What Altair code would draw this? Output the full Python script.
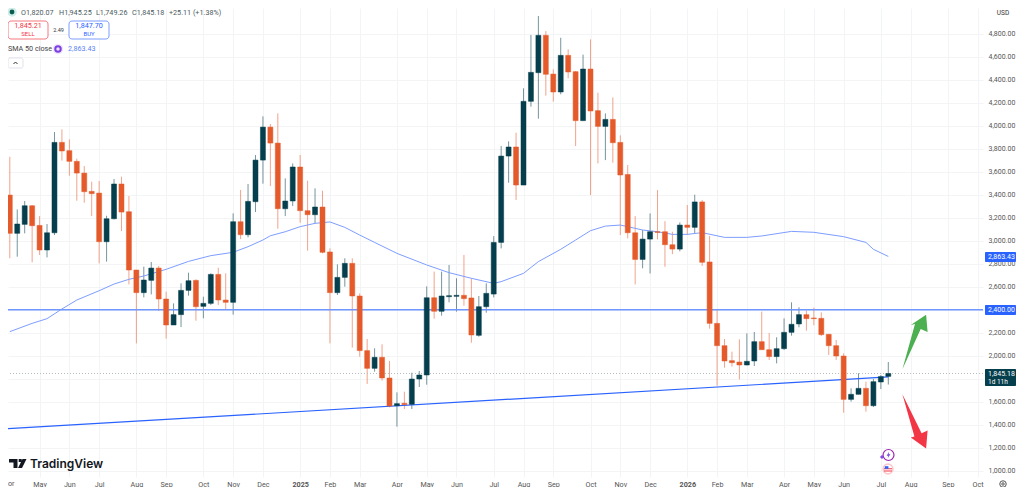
import altair as alt
import pandas as pd

idx = list(range(1, 120))
opens = [3397,3064,3142,3304,3133,2919,3069,3855,3783,3690,3588,3429,3414,2991,3191,3493,3252,2745,2548,2655,2762,2493,2267,2357,2568,2655,2429,2455,2707,2484,2464,3165,3052,3339,3701,3988,3849,3278,3345,3641,3261,3226,3293,2902,2548,2681,2803,2519,2044,1890,1986,1806,1565,1586,1577,1797,1832,2504,2386,2513,2516,2525,2502,2177,2426,2536,2985,3736,3815,3484,4212,4461,4786,4449,4293,4612,4470,4044,4493,4131,3994,4055,3855,3576,3069,2837,3014,3078,3078,2965,2927,3136,3116,3337,2815,2281,2087,1957,1945,1919,1954,2122,2052,1992,2061,2203,2276,2357,2328,2325,2186,2087,1997,1620,1664,1716,1565,1771,1820]
highs = [3730,3272,3345,3310,3214,3145,3945,3968,3881,3713,3649,3513,3519,3217,3536,3557,3388,2745,2774,2815,2780,2557,2455,2629,2722,2664,2513,2716,2765,2716,3238,3441,3493,3745,4081,4015,4107,3542,3672,3745,3522,3455,3435,2934,2794,2847,2847,2542,2145,2064,2099,1954,1681,1687,1852,1867,2603,2731,2731,2789,2673,2876,2673,2519,2629,3040,3823,3864,3939,4325,4789,4954,4823,4490,4765,4664,4476,4618,4751,4287,4107,4246,3916,3658,3214,3092,3237,3440,3170,3078,3159,3310,3400,3354,3041,2397,2145,2035,2142,2194,2206,2383,2197,2160,2325,2464,2421,2392,2418,2377,2189,2136,2020,1716,1847,1774,1797,1832,1945]
lows = [2847,2861,3064,2812,2876,2855,3049,3696,3565,3348,3330,3214,2803,2818,3185,3084,2620,2107,2507,2533,2388,2148,2267,2249,2522,2304,2325,2441,2441,2406,2357,3014,3029,3249,3496,3475,3104,3214,3301,3156,2913,3151,2890,2107,2528,2600,2070,1991,1754,1861,1783,1551,1383,1536,1536,1728,1748,2322,2348,2464,2383,2435,2113,2165,2374,2507,2933,3504,3354,3484,4165,4061,4261,4209,4273,4412,3823,4044,3397,3672,3701,3678,3049,3020,2620,2760,2715,3011,2773,2883,2907,3050,3064,2780,2235,1739,1896,1905,1794,1916,1910,2052,1963,1933,2050,2174,2247,2218,2264,2171,2006,1963,1504,1600,1664,1513,1554,1710,1749]
closes = [3064,3145,3304,3130,2919,3069,3855,3780,3690,3588,3426,3409,2991,3191,3493,3249,2745,2548,2658,2762,2493,2267,2357,2568,2652,2426,2455,2707,2484,2464,3165,3052,3342,3701,3988,3849,3278,3345,3641,3261,3226,3293,2899,2548,2681,2803,2519,2044,1890,1986,1806,1562,1583,1574,1797,1832,2504,2386,2519,2522,2525,2496,2180,2426,2542,2985,3736,3815,3484,4212,4464,4786,4447,4293,4612,4467,4044,4493,4128,3994,4055,3852,3571,3069,2837,3014,3078,3072,2965,2927,3136,3116,3337,2812,2281,2087,1954,1939,1919,1951,2122,2052,1992,2061,2203,2273,2357,2322,2322,2183,2087,1997,1620,1664,1716,1565,1774,1818,1845]

sma_x = [1,4,6,8,10,13,15,17,19,22,25,28,31,33,35,36,38,40,42,44,46,48,50,53,57,60,63,66,67,70,72,75,77,79,81,83,84,86,88,90,92,94,97,100,102,106,109,113,116,117,119]
sma_y = [2209,2281,2322,2406,2484,2565,2623,2664,2693,2751,2820,2870,2899,2948,3006,3043,3078,3122,3151,3163,3116,3049,2985,2890,2789,2722,2673,2629,2644,2716,2818,2925,3006,3087,3127,3136,3122,3093,3078,3055,3055,3070,3029,3029,3041,3081,3073,3035,2985,2925,2863]

trend_x = [0.76, 119]
trend_y = [1365, 1815]

month_ticks = [5,9,13,18,22,27,31,35,40,44,48,53,57,61,66,70,74,79,83,87,92,96,100,105,109,113,118,122,127,131]
month_names = ["May","Jun","Jul","Aug","Sep","Oct","Nov","Dec","2025","Feb","Mar","Apr","May","Jun","Jul","Aug","Sep","Oct","Nov","Dec","2026","Feb","Mar","Apr","May","Jun","Jul","Aug","Sep","Oct"]
price_ticks = list(range(1000, 5000, 200))

UP = "#053e4c"
DOWN = "#e55a2b"
BLUE = "#2962ff"
FONT = "Roboto"

df = pd.DataFrame({"i": idx, "o": opens, "h": highs, "l": lows, "c": closes})
df["dir"] = ["up" if c >= o else "down" for o, c in zip(opens, closes)]
sma = pd.DataFrame({"i": sma_x, "v": sma_y})
trend = pd.DataFrame({"i": trend_x, "v": trend_y})
blank = alt.Data(values=[{"a": 1}])

x_scale = alt.Scale(domain=[0.758, 131.72], nice=False, zero=False, padding=0)
y_scale = alt.Scale(domain=[945, 5023.6], nice=False, zero=False, padding=0)
color = alt.Color("dir:N", legend=None, scale=alt.Scale(domain=["up", "down"], range=[UP, DOWN]))

names_js = "[" + ",".join(f"'{n}'" for n in month_names) + "]"
ticks_js = "[" + ",".join(str(t) for t in month_ticks) + "]"
x_axis = alt.Axis(values=month_ticks, title=None, domain=False, ticks=False, grid=True, gridColor="#f3f4f6",
                  labelExpr=f"{names_js}[indexof({ticks_js},datum.value)]", labelFont=FONT, labelFontSize=7.2,
                  labelColor="#555555", labelPadding=3, labelOverlap=False, labelFlush=False,
                  labelFontWeight={"condition": {"test": "datum.value==40 || datum.value==92", "value": "bold"}, "value": "normal"})
y_axis = alt.Axis(values=price_ticks, orient="right", title=None, domain=False, ticks=False, grid=True, gridColor="#f3f4f6",
                  labelExpr="datum.value==1800 ? '' : format(datum.value, ',.2f')",
                  labelFont=FONT, labelFontSize=7, labelColor="#555555", labelPadding=5, labelOverlap=False)

def vx(v):
    return alt.value(v - 8)

def xq(f="i:Q"):
    return alt.X(f, scale=x_scale, axis=x_axis)

def yq(f):
    return alt.Y(f, scale=y_scale, axis=y_axis)

def txt(s, x, y, size=7.2, color_="#4a5a60", weight="normal", align="left", font=FONT):
    return alt.Chart(blank).mark_text(text=s, fontSize=size, color=color_, fontWeight=weight, align=align,
                                      baseline="middle", font=font).encode(x=vx(x), y=vx(y))

def dot(x, y, size, fill=None, stroke=None, sw=1, shape="circle"):
    opts = dict(shape=shape, size=size, opacity=1, strokeWidth=sw)
    if fill:
        opts.update(filled=True, fill=fill)
    else:
        opts.update(filled=False, fill="transparent")
    if stroke:
        opts.update(stroke=stroke)
    else:
        opts.update(strokeWidth=0)
    return alt.Chart(blank).mark_point(**opts).encode(x=vx(x), y=vx(y))

def box(x, x2, y, y2, fill="#ffffff", stroke=None, r=3, sw=1):
    opts = dict(fill=fill, cornerRadius=r, opacity=1)
    if stroke:
        opts.update(stroke=stroke, strokeWidth=sw)
    return alt.Chart(blank).mark_rect(**opts).encode(x=vx(x), x2=vx(x2), y=vx(y), y2=vx(y2))

wicks = alt.Chart(df).mark_rule(strokeWidth=1, opacity=0.55).encode(
    x=xq(), y=yq("l:Q"), y2="h:Q", color=color)
bodies = alt.Chart(df).mark_bar(size=5, orient="vertical", strokeWidth=0.5).encode(
    x=xq(), y=yq("o:Q"), y2="c:Q", color=color, stroke=color)
sma_line = alt.Chart(sma).mark_line(color="#7d9dff", strokeWidth=1).encode(x=xq(), y=yq("v:Q"))
trend_line = alt.Chart(trend).mark_line(color=BLUE, strokeWidth=1.2).encode(x=xq(), y=yq("v:Q"))
hline = alt.Chart(pd.DataFrame({"v": [2400]})).mark_rule(color="#6f97ff", strokeWidth=1.6).encode(y=yq("v:Q"))
last = alt.Chart(pd.DataFrame({"v": [1845.18]})).mark_rule(color="#b4bec0", strokeWidth=1, strokeDash=[1, 2]).encode(y=yq("v:Q"))

GREEN_ARROW = "M-0.42,0.91 L0,-0.6 L-0.14,-0.57 L0.37,-0.91 L0.42,-0.33 L0.19,-0.43 Z"
RED_ARROW = "M-0.42,-0.89 L0.22,0.41 L0.42,0.32 L0.37,0.92 L-0.14,0.55 L-0.02,0.52 Z"
LOGO = ("M-0.85,-0.45 L0,-0.45 L0,0.45 L-0.4,0.45 L-0.4,-0.1 L-0.85,-0.1 Z "
        "M0.12,-0.45 L0.42,-0.45 L0.42,-0.15 L0.12,-0.15 Z "
        "M0.5,-0.45 L0.9,-0.45 L0.45,0.45 L0.05,0.45 Z")
BOLT = "M0.2,-1 L-0.6,0.2 L-0.05,0.2 L-0.25,1 L0.6,-0.25 L0.05,-0.25 Z"
STRIPES = "M-1,-0.2 L1,-0.2 L1,0.05 L-1,0.05 Z M-1,0.4 L1,0.4 L1,0.65 L-1,0.65 Z"
FLAGBLUE = "M-0.8,-0.7 L0.1,-0.7 L0.1,-0.05 L-0.8,-0.05 Z"
CHEVRON = "M-1,0.5 L0,-0.5 L1,0.5"

parts = [
    wicks, sma_line, hline, trend_line, last, bodies,
    dot(915, 342, 3600, fill="#4caf50", shape=GREEN_ARROW),
    dot(915, 421, 3600, fill="#f23645", shape=RED_ARROW),
    # header
    dot(12, 12, 90, fill="#cfeee8"), dot(12, 12, 24, fill="#0b5d52"),
    txt("O1,820.07", 21, 12.5), txt("H1,945.25", 59, 12.5), txt("L1,749.26", 96, 12.5),
    txt("C1,845.18", 132, 12.5), txt("+25.11 (+1.38%)", 169, 12.5),
    box(8, 48, 21, 39, stroke="#f7787f"), txt("1,845.21", 28, 26, 7.2, "#f23645", align="center"),
    txt("SELL", 28, 34, 6, "#f23645", align="center"),
    txt("2.49", 58.5, 30, 5.5, "#333333", align="center"),
    box(69, 109, 21, 39, stroke="#7d9dff"), txt("1,847.70", 89, 26, 7.2, "#2962ff", align="center"),
    txt("BUY", 89, 34, 6, "#2962ff", align="center"),
    txt("SMA 50 close", 8, 49, 7.2, "#444444"),
    dot(58, 49, 110, fill="#efe6fb"), dot(58, 49, 30, stroke="#7b3fe4", sw=2),
    txt("2,863.43", 68, 49, 7.2, "#5b85f5"),
    box(8, 23, 58, 68, stroke="#e0e3eb", r=2),
    dot(15.5, 63, 16, stroke="#333333", sw=1, shape=CHEVRON),
    # logo
    dot(17.5, 463.5, 400, fill="#131722", shape=LOGO),
    txt("TradingView", 30, 464, 12, "#131722", weight=600, font="Inter"),
    txt("or", 8, 484, 7.2, "#555555"),
    # price tags
    txt("USD", 1003, 12.5, 6.5, "#333333", align="center"),
    box(985, 1016, 252, 262, fill=BLUE, r=1), txt("2,863.43", 988, 257, 7, "#ffffff"),
    box(985, 1016, 305, 315, fill=BLUE, r=1), txt("2,400.00", 988, 310, 7, "#ffffff"),
    box(985, 1016, 369, 386, fill="#053e4c", r=1), txt("1,845.18", 988, 373.5, 7, "#ffffff"),
    txt("1d 11h", 988, 381.5, 6.5, "#ffffff"),
    # bottom icons
    dot(888.5, 455, 120, fill="#ffffff", stroke="#9c27b0", sw=1.2),
    dot(888.5, 455, 40, fill="#7b3fe4", shape=BOLT),
    dot(882, 457, 12, fill="#7b3fe4", shape="cross"),
    dot(888, 469, 130, fill="#fbc9cd"), dot(888, 469, 64, fill="#ffffff"),
    dot(888, 469, 64, fill="#f23645", shape=STRIPES), dot(888, 469, 64, fill="#2962ff", shape=FLAGBLUE),
    dot(1003, 484, 42, stroke="#555555", sw=1), dot(1003, 484, 6, stroke="#555555", sw=1),
]

chart = alt.layer(*parts).properties(
    width=975, height=469,
    padding={"left": 0, "top": 0, "right": 33, "bottom": 10},
    autosize=alt.AutoSizeParams(type="none"),
    background="#ffffff",
).configure_view(stroke=None)

chart.save("out.html", embed_options={"renderer": "svg", "actions": False})
